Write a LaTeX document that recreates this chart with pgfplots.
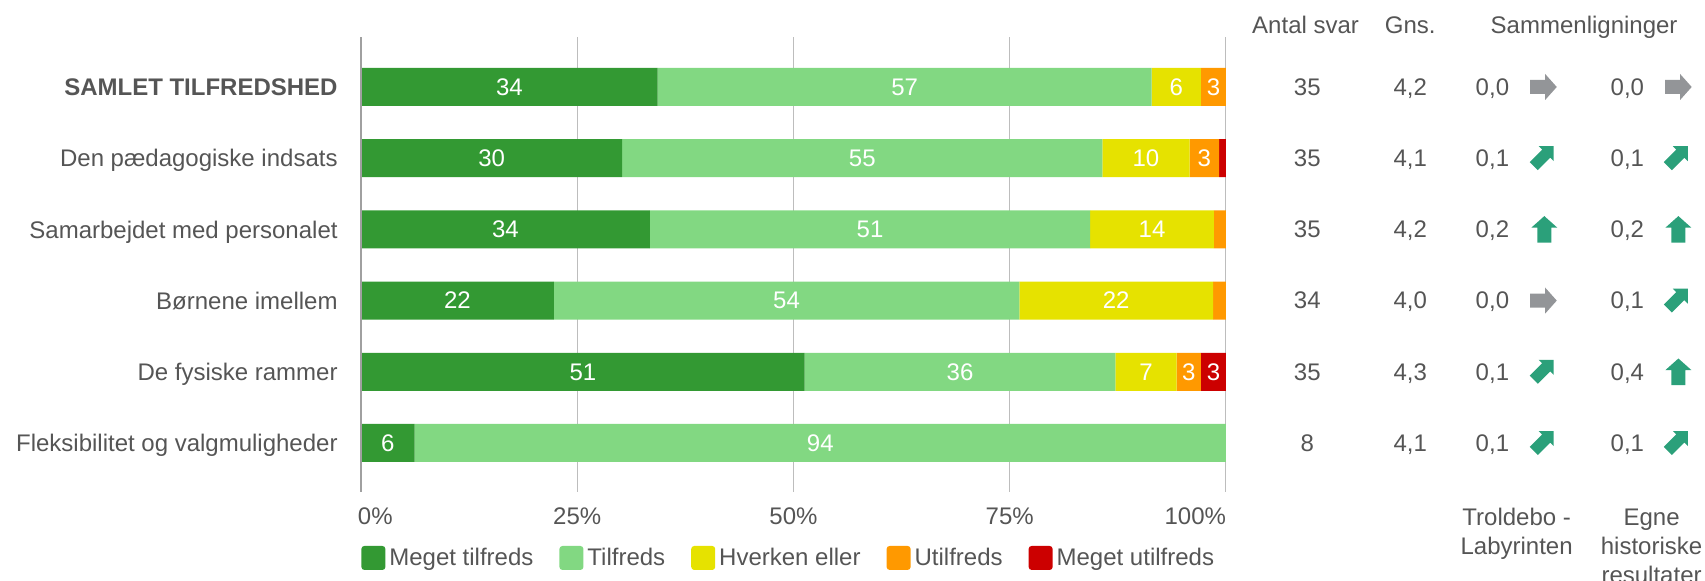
\documentclass[border=0pt]{standalone}
\usepackage{pgfplots}
\pgfplotsset{compat=1.18}
\usepackage{pgfplotstable}
\usepackage{fontspec}
\setmainfont{Liberation Sans}
\definecolor{cMT}{HTML}{339933}
\definecolor{cT}{HTML}{82D882}
\definecolor{cH}{HTML}{E6E200}
\definecolor{cU}{HTML}{FF9900}
\definecolor{cMU}{HTML}{CC0000}
\definecolor{txt}{HTML}{555555}
\definecolor{arrgray}{HTML}{939598}
\definecolor{arrgreen}{HTML}{2BA07A}
\definecolor{gridc}{HTML}{BDBDBD}
\definecolor{axc}{HTML}{A0A0A0}
\newcommand{\fz}{\fontsize{12pt}{14.4pt}\selectfont}

\pgfdeclareplotmark{arrR}{%
 \pgfpathmoveto{\pgfqpoint{-6.65pt}{3.5pt}}%
 \pgfpathlineto{\pgfqpoint{0.85pt}{3.5pt}}%
 \pgfpathlineto{\pgfqpoint{0.85pt}{6.5pt}}%
 \pgfpathlineto{\pgfqpoint{6.65pt}{0pt}}%
 \pgfpathlineto{\pgfqpoint{0.85pt}{-6.5pt}}%
 \pgfpathlineto{\pgfqpoint{0.85pt}{-3.5pt}}%
 \pgfpathlineto{\pgfqpoint{-6.65pt}{-3.5pt}}%
 \pgfpathclose\pgfusepathqfill}
\pgfdeclareplotmark{arrU}{%
 \pgfpathmoveto{\pgfqpoint{-3.5pt}{-6.65pt}}%
 \pgfpathlineto{\pgfqpoint{-3.5pt}{0.85pt}}%
 \pgfpathlineto{\pgfqpoint{-6.5pt}{0.85pt}}%
 \pgfpathlineto{\pgfqpoint{0pt}{6.65pt}}%
 \pgfpathlineto{\pgfqpoint{6.5pt}{0.85pt}}%
 \pgfpathlineto{\pgfqpoint{3.5pt}{0.85pt}}%
 \pgfpathlineto{\pgfqpoint{3.5pt}{-6.65pt}}%
 \pgfpathclose\pgfusepathqfill}
\pgfdeclareplotmark{arrD}{%
 \pgfpathmoveto{\pgfqpoint{6pt}{6pt}}%
 \pgfpathlineto{\pgfqpoint{-1.5pt}{6pt}}%
 \pgfpathlineto{\pgfqpoint{0.23pt}{4.27pt}}%
 \pgfpathlineto{\pgfqpoint{-6pt}{-1.96pt}}%
 \pgfpathlineto{\pgfqpoint{-1.96pt}{-6pt}}%
 \pgfpathlineto{\pgfqpoint{4.27pt}{0.23pt}}%
 \pgfpathlineto{\pgfqpoint{6pt}{-1.5pt}}%
 \pgfpathclose\pgfusepathqfill}

\pgfplotstableread{
y mt t h u mu
5 34.3 57.1 5.7 2.9 0.0
4 30.2 55.5 10.1 3.4 0.8
3 33.4 50.9 14.3 1.4 0.0
2 22.3 53.8 22.4 1.5 0.0
1 51.3 35.9 7.1 2.8 2.9
0 6.2 93.8 0.0 0.0 0.0
}\bars

\pgfplotstableread{
x y l
17.15 5 34
62.85 5 57
94.25 5 6
98.55 5 3
15.1 4 30
57.95 4 55
90.75 4 10
97.5 4 3
16.7 3 34
58.85 3 51
91.45 3 14
11.15 2 22
49.2 2 54
87.3 2 22
25.65 1 51
69.25 1 36
90.75 1 7
95.7 1 3
98.55 1 3
3.1 0 6
53.1 0 94
}\barlabels

\pgfplotstableread{
y n gns cA cB
5 35 4,2 0,0 0,0
4 35 4,1 0,1 0,1
3 35 4,2 0,2 0,2
2 34 4,0 0,0 0,1
1 35 4,3 0,1 0,4
0 8 4,1 0,1 0,1
}\side

\begin{document}
\begin{tikzpicture}
\begin{axis}[
  scale only axis, width=432.5pt, height=227.5pt,
  xbar stacked, bar width=19pt,
  xmin=0, xmax=100, ymin=-0.688, ymax=5.702,
  axis line style={draw=none},
  major tick length=0pt, tick style={draw=none},
  xtick={0,25,50,75,100},
  xticklabels={\makebox[0pt][l]{\hspace*{-1.5pt}0\%},25\%,50\%,75\%,\makebox[0pt][r]{100\%}},
  xmajorgrids, grid style={gridc, line width=0.5pt},
  ytick={0,1,2,3,4,5},
  yticklabels={Fleksibilitet og valgmuligheder, De fysiske rammer, Børnene imellem, Samarbejdet med personalet, Den pædagogiske indsats, \textbf{SAMLET TILFREDSHED}},
  yticklabel style={anchor=east, inner sep=0pt, xshift=-11.5pt, text depth=0pt, font=\fz, text=txt},
  xticklabel style={anchor=center, inner sep=0pt, yshift=-12pt, text depth=0pt, font=\fz, text=txt},
  legend columns=-1,
  legend style={at={(0,-0.145)}, anchor=west, draw=none, fill=none, inner sep=0pt,
    font=\fz, text=txt,
    /tikz/every even column/.append style={column sep=11pt}},
  every axis plot post/.append style={legend image code/.code={\fill[##1, draw=none, rounded corners=1.5pt] (0pt,-6pt) rectangle (12pt,6pt);}},
]
\addplot[fill=cMT, draw=none] table[x=mt, y=y] {\bars};
\addplot[fill=cT, draw=none] table[x=t, y=y] {\bars};
\addplot[fill=cH, draw=none] table[x=h, y=y] {\bars};
\addplot[fill=cU, draw=none] table[x=u, y=y] {\bars};
\addplot[fill=cMU, draw=none] table[x=mu, y=y] {\bars};
\legend{Meget tilfreds, Tilfreds, Hverken eller, Utilfreds, Meget utilfreds}
\end{axis}

\begin{axis}[
  scale only axis, width=432.5pt, height=227.5pt,
  xmin=0, xmax=100, ymin=-0.688, ymax=5.702,
  hide axis, clip=false,
  every node near coord/.append style={anchor=center, text depth=0pt, inner sep=0pt, font=\fz, text=txt},
  lbl/.style={only marks, mark=*, mark size=0pt, mark options={draw=none, fill=none}, nodes near coords, point meta=explicit symbolic},
]
\coordinate (BL) at (axis cs:0,-0.688);
\draw[axc, line width=1pt] (axis cs:0,-0.688) -- (axis cs:0,5.702);
\addplot[lbl, every node near coord/.append style={text=white}] table[x=x, y=y, meta=l] {\barlabels};
\addplot[lbl] table[x expr=109.4, y=y, meta=n] {\side};
\addplot[lbl] table[x expr=121.3, y=y, meta=gns] {\side};
\addplot[lbl] table[x expr=130.8, y=y, meta=cA] {\side};
\addplot[lbl] table[x expr=146.4, y=y, meta=cB] {\side};
\addplot[only marks, mark=arrR, color=arrgray] coordinates {(136.7,5) (136.7,2) (152.3,5)};
\addplot[only marks, mark=arrU, color=arrgreen] coordinates {(136.8,3) (152.3,3) (152.3,1)};
\addplot[only marks, mark=arrD, color=arrgreen] coordinates {(136.5,4) (136.5,1) (136.5,0) (152.0,4) (152.0,2) (152.0,0)};
\node[anchor=base, font=\fz, text=txt, inner sep=0pt] at (axis cs:109.2,5.751) {Antal svar};
\node[anchor=base, font=\fz, text=txt, inner sep=0pt] at (axis cs:121.3,5.751) {Gns.};
\node[anchor=base, font=\fz, text=txt, inner sep=0pt] at (axis cs:141.4,5.751) {Sammenligninger};
\node[anchor=base, font=\fz, text=txt, inner sep=0pt] at (axis cs:133.6,-1.159) {Troldebo -};
\node[anchor=base, font=\fz, text=txt, inner sep=0pt] at (axis cs:133.6,-1.566) {Labyrinten};
\node[anchor=base, font=\fz, text=txt, inner sep=0pt] at (axis cs:149.2,-1.159) {Egne};
\node[anchor=base, font=\fz, text=txt, inner sep=0pt] at (axis cs:149.2,-1.566) {historiske};
\node[anchor=base, font=\fz, text=txt, inner sep=0pt] at (axis cs:149.2,-1.973) {resultater};
\end{axis}
\pgfresetboundingbox
\path[use as bounding box] ([shift={(-180.5pt,-44.5pt)}]BL) rectangle ([shift={(672pt,246pt)}]BL);
\end{tikzpicture}
\end{document}
